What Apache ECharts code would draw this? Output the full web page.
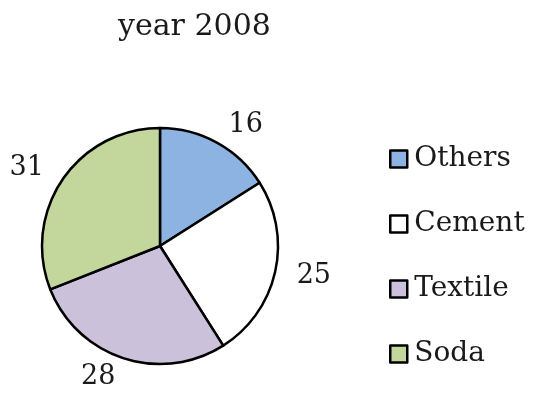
<!DOCTYPE html>
<html><head><meta charset="utf-8">
<script src="https://cdn.jsdelivr.net/npm/echarts@6/dist/echarts.min.js"></script>
<style>html,body{margin:0;padding:0;background:#fff}#c{width:547px;height:397px}</style>
</head><body><div id="c"></div>
<script>
const categories = ['Others', 'Cement', 'Textile', 'Soda'];
const values = [16, 25, 28, 31];
const colors = ['#8DB3E2', '#FFFFFF', '#CCC1DA', '#C3D69B'];
const titleText = 'year 2008';
const font = 'DejaVu Serif';

const chart = echarts.init(document.getElementById('c'));
chart.setOption({
  animation: false,
  backgroundColor: '#fff',
  title: {
    text: titleText, left: 113, top: 7,
    textStyle: { fontFamily: font, fontSize: 30, fontWeight: 'normal', color: '#1a1a1a' }
  },
  legend: {
    orient: 'vertical', left: 384, top: 138,
    itemWidth: 17, itemHeight: 17, itemGap: 33, icon: 'rect',
    itemStyle: { borderColor: '#000', borderWidth: 2.5 },
    textStyle: { fontFamily: font, fontSize: 28, color: '#1a1a1a', lineHeight: 32, padding: [0, 0, 0, 2] },
    data: categories
  },
  series: [{
    type: 'pie',
    center: [160, 246], radius: 118,
    startAngle: 90, clockwise: true,
    avoidLabelOverlap: false,
    label: { show: true, position: 'outside', formatter: '{c}', fontFamily: font, fontSize: 27, color: '#1a1a1a', distanceToLabelLine: 2, overflow: 'none' },
    labelLine: { show: false, length: 20, length2: 0 },
    itemStyle: { borderColor: '#000', borderWidth: 2.5 },
    emphasis: { disabled: true },
    data: categories.map((n, i) => ({ name: n, value: values[i], itemStyle: { color: colors[i] } }))
  }]
});
</script></body></html>
